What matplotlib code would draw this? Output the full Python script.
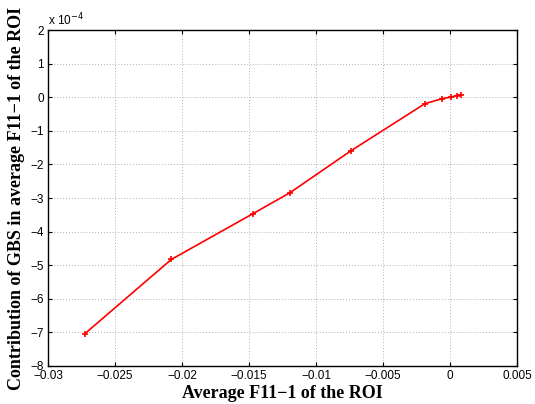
import matplotlib
matplotlib.use("Agg")
import matplotlib.pyplot as plt
from matplotlib.ticker import FuncFormatter, MultipleLocator

# Data (x: Average F11-1 of ROI, y: contribution in units of 1e-4)
x_vals = [-0.02725, -0.0208, -0.01472, -0.01193, -0.00739, -0.00189, -0.00057, 0.00005, 0.0005, 0.0008]
y_vals = [-7.04, -4.83, -3.47, -2.84, -1.595, -0.197, -0.04, 0.0, 0.05, 0.08]
y_scale = 1e-4
x_ticks = [-0.03, -0.025, -0.02, -0.015, -0.01, -0.005, 0, 0.005]
x_tick_labels = ["\u22120.03", "\u22120.025", "\u22120.02", "\u22120.015", "\u22120.01", "\u22120.005", "0", "0.005"]
y_ticks = [2, 1, 0, -1, -2, -3, -4, -5, -6, -7, -8]

fig = plt.figure(figsize=(5.35, 4.04), dpi=100)
ax = fig.add_axes([0.0897, 0.0941, 0.8766, 0.8316])

ax.plot(x_vals, [v * y_scale for v in y_vals], color="red", linewidth=1.2,
        marker="+", markersize=4, markeredgewidth=1.2)

ax.set_xlim(-0.03, 0.005)
ax.set_ylim(-8e-4, 2e-4)
ax.set_xticks(x_ticks)
ax.set_xticklabels(x_tick_labels)
ax.set_yticks([t * y_scale for t in y_ticks])
ax.set_yticklabels([("\u2212" + str(-t)) if t < 0 else str(t) for t in y_ticks])

tick_font = {"family": "Liberation Sans", "size": 8.5}
for lbl in ax.get_xticklabels() + ax.get_yticklabels():
    lbl.set_fontfamily("Liberation Sans")
    lbl.set_fontsize(8.5)

ax.tick_params(direction="in", top=True, right=True, length=3, width=0.8, pad=3, colors="black")
ax.grid(True, linestyle=(0, (1, 2)), color="#b0b0b0", linewidth=0.7)
for s in ax.spines.values():
    s.set_linewidth(1.0)
    s.set_color("black")

ax.text(0.0, 1.005, "x 10$^{-4}$", transform=ax.transAxes, ha="left", va="bottom",
        fontfamily="Liberation Sans", fontsize=8.5)

ax.set_xlabel("Average F11\u22121 of the ROI", fontfamily="Liberation Serif",
              fontweight="bold", fontsize=13, labelpad=2)
ax.set_ylabel("Contribution of GBS in average F11\u22121 of the ROI", fontfamily="Liberation Serif",
              fontweight="bold", fontsize=13, labelpad=4)

fig.savefig("out.png", dpi=100)
